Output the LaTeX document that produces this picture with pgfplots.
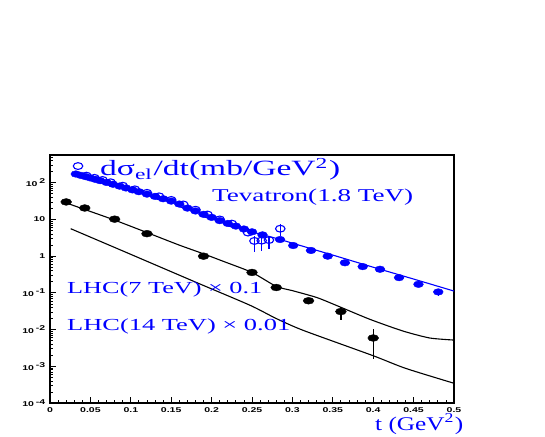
\documentclass[border=0pt]{standalone}
\usepackage{graphicx}
\usepackage{pgfplots}
\pgfplotsset{compat=1.18}
\usepackage{fontspec}
\setmainfont{Liberation Serif}
\newfontfamily\tickfont{Liberation Sans}
\definecolor{rootblue}{RGB}{0,0,255}
\newcommand{\ylab}[1]{10\hspace{1.2pt}\raisebox{2.6pt}{#1}}
\begin{document}
\begin{tikzpicture}[x=1pt,y=1pt]
\useasboundingbox (0,0) rectangle (545,436);
\begin{axis}[
  at={(50pt,33pt)}, anchor=south west,
  scale only axis, width=404pt, height=248pt,
  xmin=0, xmax=0.5, ymin=1e-4, ymax=570, ymode=log,
  axis line style={line width=1.1pt},
  xtick={0,0.05,0.1,0.15,0.2,0.25,0.3,0.35,0.4,0.45,0.5},
  xticklabels={0,0.05,0.1,0.15,0.2,0.25,0.3,0.35,0.4,0.45,0.5},
  minor x tick num=4,
  ytick={1e-4,1e-3,1e-2,1e-1,1,10,100},
  yticklabels={\ylab{-4},\ylab{-3},\ylab{-2},\ylab{-1},1\hspace{2.5pt},10\hspace{5pt},\ylab{2}},
  minor ytick={2e-4,3e-4,4e-4,5e-4,6e-4,7e-4,8e-4,9e-4,
    2e-3,3e-3,4e-3,5e-3,6e-3,7e-3,8e-3,9e-3,
    2e-2,3e-2,4e-2,5e-2,6e-2,7e-2,8e-2,9e-2,
    0.2,0.3,0.4,0.5,0.6,0.7,0.8,0.9,
    2,3,4,5,6,7,8,9,20,30,40,50,60,70,80,90,200,300,400,500},
  xtick pos=bottom, ytick pos=left, tick align=inside,
  major tick length=6pt, minor tick length=3pt,
  every tick/.style={black, line width=0.8pt},
  tick label style={font=\tickfont\fontsize{7}{8}\selectfont\bfseries, xscale=1.5},
  xticklabel style={inner sep=0pt, anchor=north, yshift=-4pt},
  yticklabel style={inner sep=0pt, anchor=east, xshift=-3pt},
]
% Tevatron model line
\addplot[rootblue, line width=1.1pt, smooth, tension=0.4] coordinates {
(0.028,190)(0.05,135)(0.075,95)(0.1,66)(0.125,46)(0.15,32)(0.175,18.6)(0.2,11.4)
(0.225,7.2)(0.25,4.6)(0.27,3.5)(0.285,2.84)(0.3,2.26)(0.35,1.07)(0.4,0.50)(0.45,0.238)(0.5,0.112)};
% Tevatron filled data
\addplot[only marks, mark=*, rootblue, mark size=3.3pt, mark options={xscale=1.5},
  error bars/.cd, y dir=both, y explicit, error mark=none, error bar style={line width=1.2pt, rootblue}] coordinates {
(0.032,173)(0.038,159)(0.044,147)(0.050,135)(0.056,124)(0.062,114)(0.070,102)(0.078,91)
(0.086,81)(0.094,72)(0.102,64)(0.110,57)(0.120,49)(0.130,42.5)(0.140,36.6)(0.150,31.6)
(0.160,26.3)(0.170,20.4)(0.180,17)(0.190,13.8)(0.200,11.4)(0.210,9.3)(0.220,7.8)(0.230,6.6)
(0.240,5.5)(0.250,4.6)(0.263,3.8)(0.2847,2.84)(0.301,1.95)(0.323,1.43)(0.3437,1.0)
(0.365,0.66)(0.387,0.52)(0.4084,0.44)(0.432,0.26)
(0.456,0.171) += (0,0.03) -= (0,0.03)
(0.4805,0.106) += (0,0.02) -= (0,0.023)};
% Tevatron open data
\addplot[only marks, mark=o, rootblue, mark size=3.4pt, mark options={xscale=1.4, fill=white, line width=1.1pt},
  error bars/.cd, y dir=both, y explicit, error mark=none, error bar style={line width=1.2pt, rootblue}] coordinates {
(0.0347,285)(0.045,156)(0.055,136)(0.065,119)(0.075,103)(0.09,83)(0.105,66)(0.12,53)
(0.135,42.6)(0.15,34)(0.165,25.6)(0.18,18.4)(0.195,13.6)(0.21,10)(0.225,7.7)(0.245,4.4)
(0.253,2.6) += (0,1.0) -= (0,1.3)
(0.262,2.65) += (0,0.9) -= (0,1.3)
(0.271,2.75) += (0,0.9) -= (0,1.2)
(0.285,5.6) += (0,2.0) -= (0,2.0)};
% LHC 7 TeV model
\addplot[black, line width=1.1pt, smooth, tension=0.4] coordinates {
(0.016,30.3)(0.05,16.5)(0.08,9.6)(0.12,4.4)(0.16,2.0)(0.189,1.18)(0.214,0.73)(0.25,0.36)
(0.28,0.15)(0.30,0.115)(0.33,0.075)(0.355,0.045)(0.396,0.019)(0.437,0.0091)(0.47,0.0059)(0.499,0.0052)};
% LHC 14 TeV model
\addplot[black, line width=1.1pt, smooth, tension=0.4] coordinates {
(0.0256,5.6)(0.1,1.12)(0.18,0.197)(0.2475,0.046)(0.28,0.02)(0.3135,0.0095)
(0.3997,0.00195)(0.44,0.00088)(0.499,0.00035)};
% LHC 7 TeV data
\addplot[only marks, mark=*, black, mark size=3.4pt, mark options={xscale=1.6},
  error bars/.cd, y dir=both, y explicit, error mark=none, error bar style={line width=1.3pt, black}] coordinates {
(0.02,30)(0.043,20.5)(0.08,10.2)(0.12,4.1)(0.19,1.0)(0.25,0.36)(0.28,0.14)(0.32,0.061)
(0.36,0.031) += (0,0.009) -= (0,0.013)
(0.40,0.0059) += (0,0.0045) -= (0,0.0043)};
\end{axis}
\node[anchor=base west, inner sep=0pt, text=rootblue] at (100,260) {\resizebox{240pt}{18pt}{dσ\textsubscript{el}/dt(mb/GeV\textsuperscript{2})}};
\node[anchor=base west, inner sep=0pt, text=rootblue] at (212,234.3) {\resizebox{201pt}{12.5pt}{Tevatron(1.8 TeV)}};
\node[anchor=base west, inner sep=0pt, text=rootblue] at (67,142) {\resizebox{195pt}{11.7pt}{LHC(7 TeV) × 0.1}};
\node[anchor=base west, inner sep=0pt, text=rootblue] at (67,105) {\resizebox{223pt}{11.7pt}{LHC(14 TeV) × 0.01}};
\node[anchor=base west, inner sep=0pt, text=rootblue] at (375,6) {\resizebox{88pt}{16pt}{t (GeV\textsuperscript{2})}};
\end{tikzpicture}
\end{document}
